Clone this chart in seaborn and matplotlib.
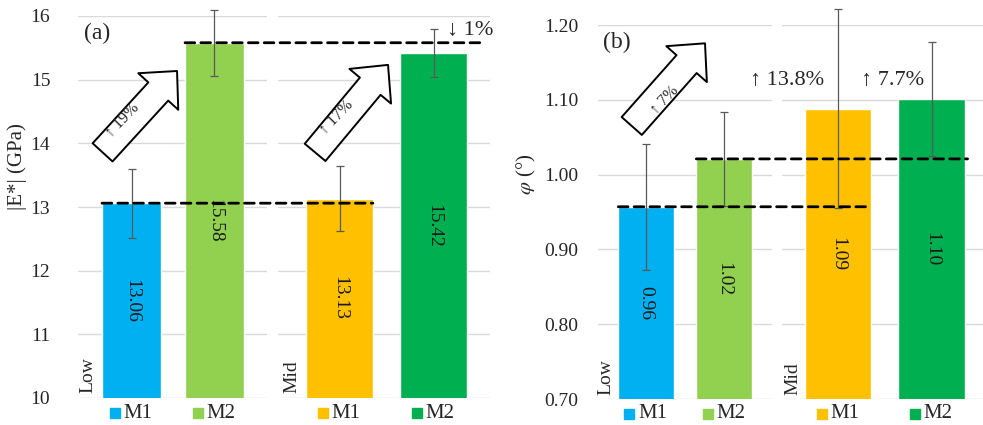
import matplotlib
matplotlib.use("Agg")
import matplotlib.pyplot as plt
import matplotlib.transforms as mtransforms
from matplotlib.patches import ConnectionPatch
import seaborn as sns

# ---------------- data ----------------
categories = ["M1", "M2"]
levels = ["Low", "Mid"]
colors_low = ["#00B0F0", "#92D050"]
colors_mid = ["#FFC000", "#00B050"]

E_low = [13.06, 15.58]
E_mid = [13.13, 15.42]
E_low_err = [0.54, 0.52]
E_mid_err = [0.51, 0.38]

phi_low = [0.957, 1.021]
phi_mid = [1.088, 1.101]
phi_low_err = [0.084, 0.063]
phi_mid_err = [0.133, 0.076]

E_ticks = [10, 11, 12, 13, 14, 15, 16]
phi_ticks = [0.70, 0.80, 0.90, 1.00, 1.10, 1.20]

E_notes = ["↑ 19%", "↑ 17%", "↓ 1%"]
phi_notes = ["↑ 7%", "↑ 13.8%", "↑ 7.7%"]

# ---------------- style ----------------
sns.set_style("white")
plt.rcParams["font.family"] = ["Liberation Serif", "DejaVu Serif"]
plt.rcParams["mathtext.fontset"] = "stix"

fig = plt.figure(figsize=(9.83, 4.25), dpi=100)
W, H = 983.0, 425.0

def add_ax(x0, x1, ytop, ybot):
    return fig.add_axes([x0 / W, 1 - ybot / H, (x1 - x0) / W, (ybot - ytop) / H])

ax1 = add_ax(78, 267, 16, 398)
ax2 = add_ax(278, 490, 16, 398)
ax3 = add_ax(598, 772, 25, 399)
ax4 = add_ax(782, 983, 25, 399)

BAR_W = 0.71
GRID = "#D9D9D9"
ERR = "#595959"

def draw_panel(ax, vals, errs, cols, ylim, ticks, xlim, fmt, show_y):
    sns.barplot(x=categories, y=vals, hue=categories, palette=cols, width=BAR_W,
                saturation=1, legend=False, ax=ax, zorder=2)
    ax.errorbar([0, 1], vals, yerr=errs, fmt="none", ecolor=ERR, elinewidth=0.9,
                capsize=2.8, capthick=0.9, zorder=3, clip_on=False)
    ax.set_ylim(*ylim)
    ax.set_xlim(*xlim)
    ax.set_yticks(ticks)
    ax.yaxis.grid(True, color=GRID, lw=1.0, zorder=0)
    ax.set_axisbelow(True)
    for s in ax.spines.values():
        s.set_visible(False)
    ax.set_xticks([])
    ax.set_xlabel("")
    ax.set_ylabel("")
    if show_y:
        ax.set_yticklabels([fmt.format(t) for t in ticks])
    ax.tick_params(axis="y", length=0, labelsize=14, labelleft=show_y)
    # value labels inside bars
    for i, v in enumerate(vals):
        ax.text(i, (ylim[0] + v) / 2, f"{v:.2f}",
                rotation=-90, ha="center", va="center", fontsize=14, color="#1a1a1a", zorder=4)
    # legend-like category labels
    base = mtransforms.blended_transform_factory(ax.transData, ax.transAxes)
    for i, c in enumerate(categories):
        tsq = mtransforms.offset_copy(base, fig=fig, x=-16.5, y=0, units="dots")
        ax.plot([i], [-0.04], marker="s", ms=7, color=cols[i], transform=tsq,
                clip_on=False, ls="none")
        ttx = mtransforms.offset_copy(base, fig=fig, x=-8, y=0, units="dots")
        ax.text(i, -0.04, c, transform=ttx, ha="left", va="center", fontsize=15)
    return ax

draw_panel(ax1, E_low, E_low_err, colors_low, (10, 16), E_ticks, (-0.645, 1.633), "{:.2f}", True)
draw_panel(ax2, E_mid, E_mid_err, colors_mid, (10, 16), E_ticks, (-0.654, 1.60), "{:.2f}", False)
draw_panel(ax3, phi_low, phi_low_err, colors_low, (0.70, 1.20), phi_ticks, (-0.615, 1.615), "{:.2f}", True)
draw_panel(ax4, phi_mid, phi_mid_err, colors_mid, (0.70, 1.20), phi_ticks, (-0.60, 1.55), "{:.2f}", False)

ax1.set_yticklabels([str(t) for t in E_ticks])
ax1.tick_params(axis="y", pad=20)
ax3.tick_params(axis="y", pad=14)

# level labels
for ax, lv, xf in [(ax1, levels[0], 0.05), (ax2, levels[1], 0.065),
                   (ax3, levels[0], 0.045), (ax4, levels[1], 0.056)]:
    ax.text(xf, 0.012, lv, rotation=90, ha="center", va="bottom", fontsize=14,
            transform=ax.transAxes, zorder=4)

# y labels
ax1.text(-0.323, 0.607, "|E*| (GPa)", rotation=90, ha="center", va="center",
         fontsize=15, transform=ax1.transAxes)
ax3.text(-0.41, 0.60, r"$\varphi$ (°)", rotation=90, ha="center", va="center",
         fontsize=15, transform=ax3.transAxes)

# panel letters
ax1.text(0.10, 0.955, "(a)", ha="center", va="center", fontsize=17, transform=ax1.transAxes)
ax3.text(0.109, 0.952, "(b)", ha="center", va="center", fontsize=17, transform=ax3.transAxes)

# dashed reference lines
def dashed(axA, xA, axB, xB, y):
    con = ConnectionPatch(xyA=(xA, y), coordsA=axA.transData, xyB=(xB, y), coordsB=axB.transData,
                          color="black", lw=2.0, linestyle=(0, (3.5, 2.2)), zorder=5)
    fig.add_artist(con)

half = BAR_W / 2
dashed(ax1, -half, ax2, half, E_low[0])
dashed(ax1, 1 - half, ax2, 1 + half + 0.14, E_low[1])
dashed(ax3, -half, ax4, half, phi_low[0])
dashed(ax3, 1 - half, ax4, 1 + half + 0.03, phi_low[1])

# block arrows with text
def block_arrow(ax, tail, tip, label, center, rot):
    ax.annotate("", xy=tip, xytext=tail, xycoords="axes fraction", textcoords="axes fraction",
                arrowprops=dict(arrowstyle="simple,head_length=1.0,head_width=1.95,tail_width=0.97",
                                mutation_scale=20, fc="white", ec="black", lw=1.4,
                                shrinkA=0, shrinkB=0),
                annotation_clip=False, zorder=6)
    ax.text(center[0], center[1], label, rotation=rot, ha="center", va="center",
            fontsize=11.5, transform=ax.transAxes, zorder=7, rotation_mode="anchor",
            family=["DejaVu Serif"] if False else None)

block_arrow(ax1, (0.13, 0.643), (0.524, 0.856), E_notes[0], (0.235, 0.727), 46)
block_arrow(ax2, (0.175, 0.643), (0.519, 0.872), E_notes[1], (0.275, 0.735), 46)
block_arrow(ax3, (0.194, 0.730), (0.615, 0.951), phi_notes[0], (0.38, 0.80), 46)

# percentage notes
ax2.text(1 + 0.144, 15.78, E_notes[2], ha="left", va="center", fontsize=16, zorder=7, clip_on=False)
ax4.text(-0.545, 1.126, phi_notes[1], ha="center", va="center", fontsize=16, zorder=7, clip_on=False)
ax4.text(0.578, 1.126, phi_notes[2], ha="center", va="center", fontsize=16, zorder=7, clip_on=False)

fig.savefig("out.png", dpi=100)
